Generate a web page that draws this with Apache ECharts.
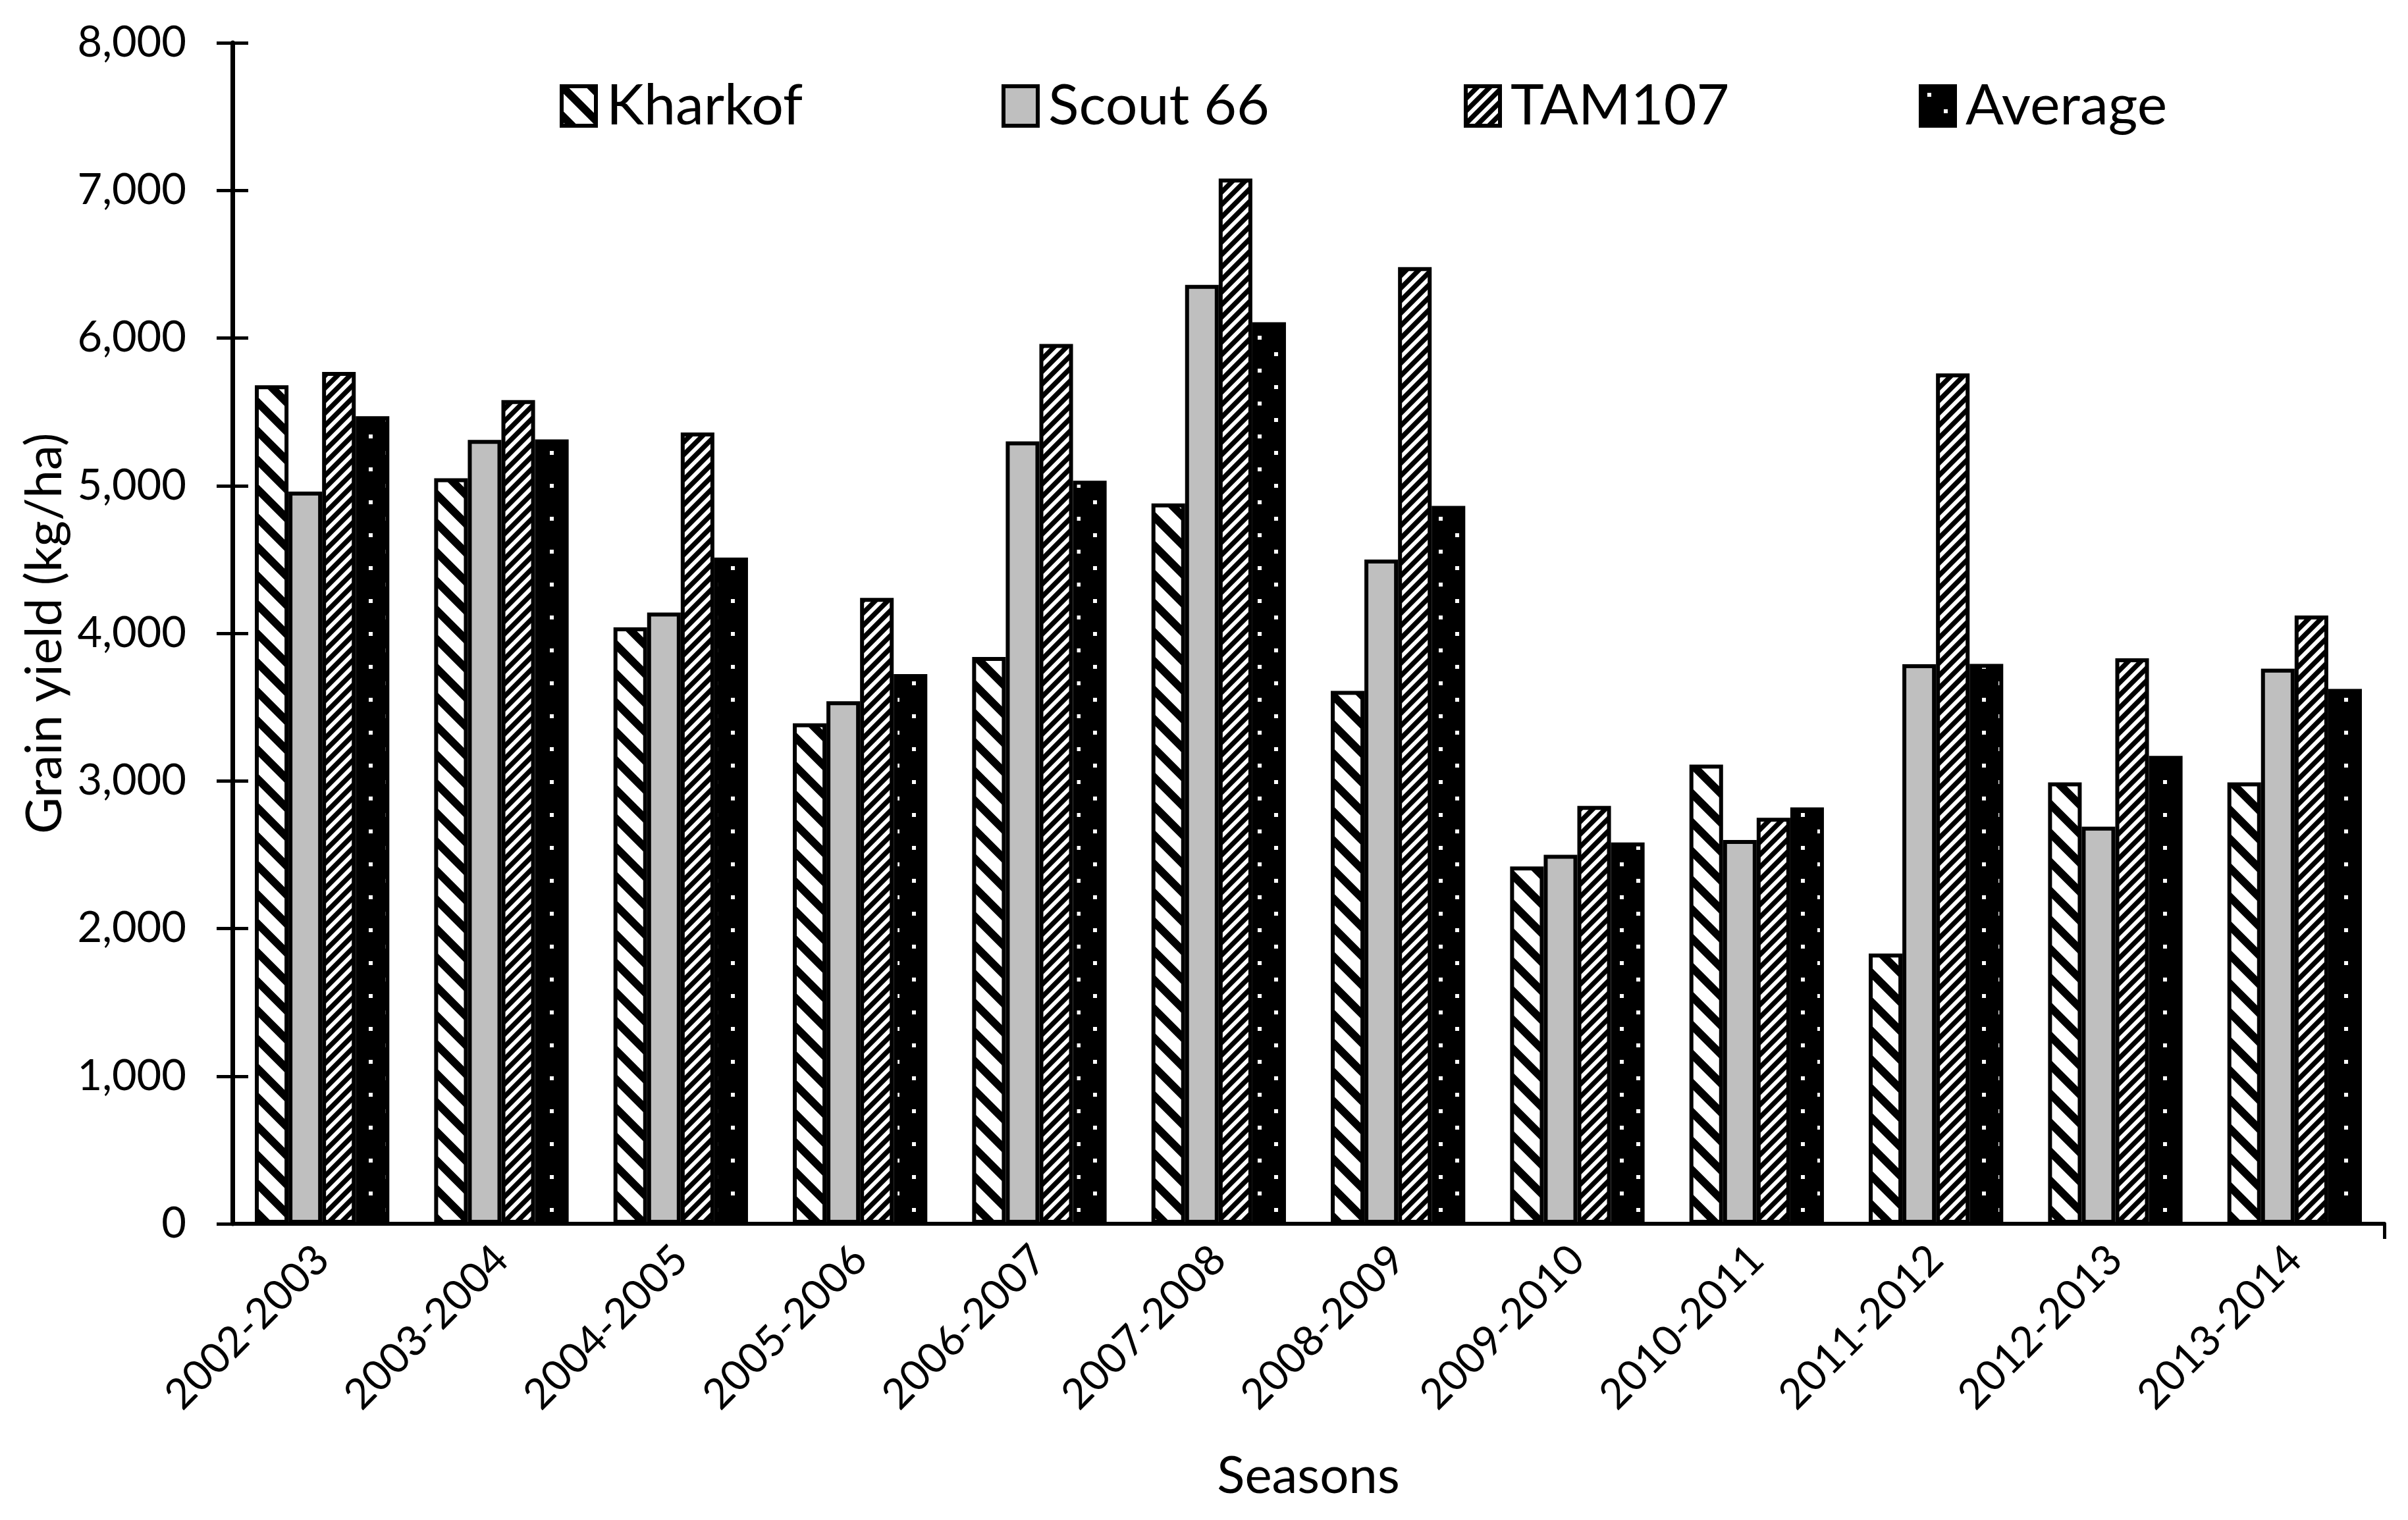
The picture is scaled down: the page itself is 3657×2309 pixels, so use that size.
<!DOCTYPE html>
<html>
<head>
<meta charset="utf-8">
<script src="https://cdn.jsdelivr.net/npm/echarts@6/dist/echarts.min.js"></script>
<style>
html,body{margin:0;padding:0;background:#fff;}
#chart{width:3657px;height:2309px;}
</style>
</head>
<body>
<div id="chart"></div>
<script>
const seasons = ['2002-2003','2003-2004','2004-2005','2005-2006','2006-2007','2007-2008','2008-2009','2009-2010','2010-2011','2011-2012','2012-2013','2013-2014'];
const kharkof = [5680,5050,4040,3390,3840,4880,3610,2420,3110,1830,2990,2990];
const scout66 = [4960,5310,4140,3540,5300,6360,4500,2500,2600,3790,2690,3760];
const tam107  = [5770,5580,5360,4240,5960,7080,6480,2830,2750,5760,3830,4120];
const average = [5470,5313,4513,3723,5033,6107,4863,2583,2820,3793,3170,3623];
const yTicks = [0,1000,2000,3000,4000,5000,6000,7000,8000];

function tile(w, h, draw){
  const c = document.createElement('canvas');
  c.width = w; c.height = h;
  const ctx = c.getContext('2d');
  draw(ctx, w, h);
  return c;
}
const kharkofTile = tile(44, 44, (ctx, w, h) => {
  ctx.fillStyle = '#fff'; ctx.fillRect(0,0,w,h);
  ctx.strokeStyle = '#000'; ctx.lineWidth = 12; ctx.lineCap = 'square';
  for (let k = -1; k <= 1; k++) {
    ctx.beginPath(); ctx.moveTo(k*w - 10, -10); ctx.lineTo(k*w + w + 10, h + 10); ctx.stroke();
  }
});
const tamTile = tile(19, 19, (ctx, w, h) => {
  ctx.fillStyle = '#fff'; ctx.fillRect(0,0,w,h);
  ctx.strokeStyle = '#000'; ctx.lineWidth = 7.4;
  for (let k = -1; k <= 1; k++) {
    ctx.beginPath(); ctx.moveTo(k*w - 5, h + 5); ctx.lineTo(k*w + w + 5, -5); ctx.stroke();
  }
});
const avgTile = tile(50, 50, (ctx, w, h) => {
  ctx.fillStyle = '#000'; ctx.fillRect(0,0,w,h);
  ctx.fillStyle = '#fff';
  ctx.fillRect(10,10,6,6); ctx.fillRect(35,35,6,6);
});

const FONT = 'Lato';
const chart = echarts.init(document.getElementById('chart'), null, {renderer:'canvas'});

function barSeries(name, data, color){
  return {
    name, type:'bar', data,
    xAxisIndex:0, yAxisIndex:0,
    barGap:'0%', barCategoryGap:'25%',
    itemStyle:{color, borderColor:'#000', borderWidth:6},
    emphasis:{disabled:true}
  };
}
function legendAt(name, left){
  return {
    data:[name], left, top:118, padding:0,
    icon:'rect', itemWidth:52, itemHeight:60,
    itemStyle:{borderColor:'#000', borderWidth:6},
    textStyle:{fontFamily:FONT, fontSize:86, color:'#000', padding:[0,0,0,11]}
  };
}

chart.setOption({
  backgroundColor:'#fff',
  animation:false,
  grid:{left:353, right:36, top:65, bottom:450, containLabel:false},
  legend:[
    legendAt('Kharkof', 850),
    legendAt('Scout 66', 1521),
    legendAt('TAM107', 2223),
    legendAt('Average', 2914)
  ],
  xAxis:[{
    type:'category', data:seasons, position:'bottom',
    axisLine:{lineStyle:{color:'#000', width:6}},
    axisTick:{alignWithLabel:true, length:23, lineStyle:{color:'#000', width:5}},
    axisLabel:{rotate:45, margin:44, fontFamily:FONT, fontSize:64, color:'#000', interval:0},
    name:'Seasons', nameLocation:'middle', nameGap:345,
    nameTextStyle:{fontFamily:FONT, fontSize:78, color:'#000'}
  },{
    type:'value', min:0, max:12, position:'bottom',
    axisLine:{show:false}, splitLine:{show:false}, axisLabel:{show:false},
    axisTick:{show:true, customValues:[12], length:23, lineStyle:{color:'#000', width:5}}
  }],
  yAxis:[{
    type:'value', min:0, max:8000, interval:1000,
    axisLine:{show:true, lineStyle:{color:'#000', width:7}},
    axisTick:{show:true, length:24, lineStyle:{color:'#000', width:5}},
    splitLine:{show:false},
    axisLabel:{margin:70, fontFamily:FONT, fontSize:65, color:'#000',
      formatter:v => v.toLocaleString('en-US')},
    name:'Grain yield (kg/ha)', nameLocation:'middle', nameGap:245, nameRotate:90,
    nameTextStyle:{fontFamily:FONT, fontSize:76, color:'#000'}
  },{
    type:'value', min:0, max:8000, interval:1000, position:'left', offset:0,
    axisLine:{show:false}, splitLine:{show:false}, axisLabel:{show:false},
    axisTick:{show:true, inside:true, length:24, lineStyle:{color:'#000', width:5}}
  }],
  series:[
    barSeries('Kharkof', kharkof, {image:kharkofTile, repeat:'repeat'}),
    barSeries('Scout 66', scout66, '#bfbfbf'),
    barSeries('TAM107', tam107, {image:tamTile, repeat:'repeat'}),
    barSeries('Average', average, {image:avgTile, repeat:'repeat'})
  ]
});
</script>
</body>
</html>
